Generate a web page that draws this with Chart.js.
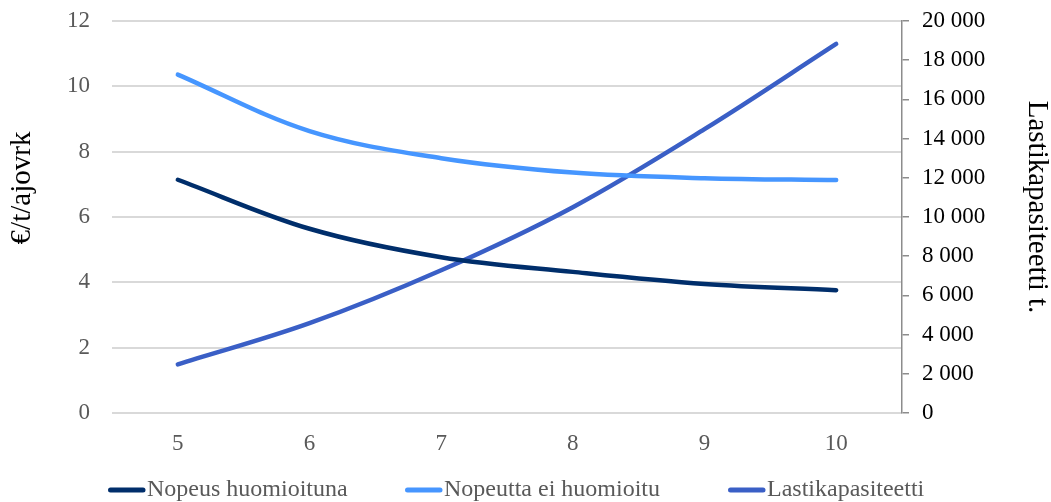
<!DOCTYPE html>
<html>
<head>
<meta charset="utf-8">
<script src="https://cdn.jsdelivr.net/npm/chart.js@4.4.1/dist/chart.umd.min.js"></script>
<style>
  html, body { margin: 0; padding: 0; background: #ffffff; }
  #wrap { width: 1051px; height: 502px; position: relative; }
</style>
</head>
<body>
<div id="wrap"><canvas id="c"></canvas></div>
<script>
// Ajonopeus / kustannus ja lastikapasiteetti
const categories = ['5', '6', '7', '8', '9', '10'];
const nopeusHuomioituna = [7.14, 5.64, 4.77, 4.32, 3.95, 3.76];
const nopeuttaEiHuomioitu = [10.36, 8.63, 7.80, 7.36, 7.19, 7.13];
const lastikapasiteetti = [2480, 4580, 7280, 10500, 14480, 18830];

const leftTicks = [0, 2, 4, 6, 8, 10, 12];
const rightTicks = [0, 2000, 4000, 6000, 8000, 10000, 12000, 14000, 16000, 18000, 20000];

const seriesNames = ['Nopeus huomioituna', 'Nopeutta ei huomioitu', 'Lastikapasiteetti'];
const seriesColors = ['#002e6b', '#4696ff', '#3a5fc6'];
const leftTitle = '€/t/ajovrk';
const rightTitle = 'Lastikapasiteetti t.';

const serif = '"Liberation Serif", "Times New Roman", serif';
const tickSize = 23;
const legendSize = 24;
const titleSize = 29;

function spaced(v) {
  return String(v).replace(/\B(?=(\d{3})+(?!\d))/g, ' ');
}

// Vertical axes: fixed widths, and no extra room reserved above/below for labels
function fixedWidth(w) {
  return function (axis) {
    axis.width = w;
    axis.paddingTop = 0;
    axis.paddingBottom = 0;
  };
}

// Axis titles, placed beside the plot like the workbook chart does
const axisTitles = {
  id: 'axisTitles',
  afterDraw(chart) {
    const ctx = chart.ctx;
    ctx.save();
    ctx.font = titleSize + 'px ' + serif;
    ctx.fillStyle = '#000000';
    ctx.textAlign = 'center';
    ctx.textBaseline = 'middle';
    ctx.translate(22, 188);
    ctx.rotate(-Math.PI / 2);
    ctx.fillText(leftTitle, 0, 0);
    ctx.restore();

    ctx.save();
    ctx.font = titleSize + 'px ' + serif;
    ctx.fillStyle = '#000000';
    ctx.textAlign = 'center';
    ctx.textBaseline = 'middle';
    ctx.translate(1037, 207);
    ctx.rotate(Math.PI / 2);
    ctx.fillText(rightTitle, 0, 0);
    ctx.restore();
  }
};

// Legend row under the category axis: a short rounded line, then the series name
const legendRow = {
  id: 'legendRow',
  afterDraw(chart) {
    const ctx = chart.ctx;
    const starts = [108, 405, 728];
    const y = 490;
    ctx.save();
    ctx.font = legendSize + 'px ' + serif;
    ctx.textBaseline = 'middle';
    ctx.textAlign = 'left';
    chart.data.datasets.forEach((ds, i) => {
      const x = starts[i];
      ctx.strokeStyle = ds.borderColor;
      ctx.lineWidth = 5;
      ctx.lineCap = 'round';
      ctx.beginPath();
      ctx.moveTo(x + 2.5, y);
      ctx.lineTo(x + 35, y);
      ctx.stroke();
      ctx.fillStyle = '#595959';
      ctx.fillText(ds.label, x + 39, y);
    });
    ctx.restore();
  }
};

new Chart(document.getElementById('c'), {
  type: 'line',
  data: {
    labels: categories,
    datasets: [
      { label: seriesNames[0], data: nopeusHuomioituna, yAxisID: 'y', borderColor: seriesColors[0], backgroundColor: seriesColors[0] },
      { label: seriesNames[1], data: nopeuttaEiHuomioitu, yAxisID: 'y', borderColor: seriesColors[1], backgroundColor: seriesColors[1] },
      { label: seriesNames[2], data: lastikapasiteetti, yAxisID: 'y2', borderColor: seriesColors[2], backgroundColor: seriesColors[2] }
    ]
  },
  plugins: [axisTitles, legendRow],
  options: {
    responsive: true,
    maintainAspectRatio: false,
    animation: false,
    layout: { autoPadding: false, padding: { top: 21, left: 0, right: 0, bottom: 0 } },
    elements: {
      line: { borderWidth: 4.5, tension: 0.35, borderCapStyle: 'round', borderJoinStyle: 'round', fill: false },
      point: { radius: 0, hoverRadius: 0 }
    },
    plugins: {
      tooltip: { enabled: false },
      legend: { display: false }
    },
    scales: {
      x: {
        offset: true,
        grid: { display: false },
        border: { display: false },
        ticks: { font: { family: serif, size: tickSize }, color: '#595959', padding: 9 },
        afterFit(axis) { axis.height = 89; }
      },
      y: {
        position: 'left',
        min: 0,
        max: 12,
        afterBuildTicks(axis) { axis.ticks = leftTicks.map(v => ({ value: v })); },
        grid: { color: '#d9d9d9', lineWidth: 2, drawTicks: true, tickLength: 22, tickColor: 'rgba(0,0,0,0)' },
        border: { display: false },
        ticks: { font: { family: serif, size: tickSize }, color: '#595959', padding: 0 },
        afterFit: fixedWidth(112)
      },
      y2: {
        position: 'right',
        min: 0,
        max: 20000,
        afterBuildTicks(axis) { axis.ticks = rightTicks.map(v => ({ value: v })); },
        grid: { drawOnChartArea: false, color: '#8c8c8c', lineWidth: 1.5, tickLength: 7 },
        border: { display: true, color: '#8c8c8c', width: 1.5 },
        ticks: { font: { family: serif, size: tickSize }, color: '#000000', padding: 13, callback: v => spaced(v) },
        afterFit: fixedWidth(149)
      }
    }
  }
});
</script>
</body>
</html>
